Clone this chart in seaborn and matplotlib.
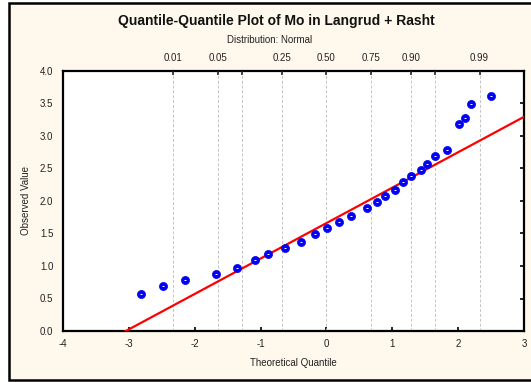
import numpy as np
import pandas as pd
import matplotlib
matplotlib.use("Agg")
import matplotlib.pyplot as plt
from matplotlib.patches import Rectangle
import seaborn as sns


# DATA

theoretical = [-2.81, -2.48, -2.14, -1.68, -1.36, -1.08, -0.88, -0.63, -0.38,
               -0.17, 0.01, 0.19, 0.37, 0.62, 0.77, 0.89, 1.04, 1.16, 1.29,
               1.43, 1.53, 1.65, 1.83, 2.01, 2.11, 2.19, 2.50]
observed = [0.57, 0.69, 0.78, 0.87, 0.97, 1.09, 1.18, 1.27, 1.37,
            1.49, 1.59, 1.68, 1.77, 1.89, 1.99, 2.08, 2.17, 2.29, 2.39,
            2.48, 2.57, 2.69, 2.79, 3.19, 3.28, 3.49, 3.62]

fit_intercept = 1.66
fit_slope = 0.545

prob_levels = [0.01, 0.05, 0.10, 0.25, 0.50, 0.75, 0.90, 0.95, 0.99]
prob_z = [-2.326, -1.645, -1.282, -0.674, 0.0, 0.674, 1.282, 1.645, 2.326]
prob_labels = ["0.01", "0.05", "", "0.25", "0.50", "0.75", "0.90", "", "0.99"]

x_ticks = [-4, -3, -2, -1, 0, 1, 2, 3]
y_ticks = [0.0, 0.5, 1.0, 1.5, 2.0, 2.5, 3.0, 3.5, 4.0]

df = pd.DataFrame({"q": theoretical, "v": observed})


# STYLE

sns.set_style("white")
plt.rcParams["font.family"] = ["Liberation Sans", "DejaVu Sans"]

CREAM = "#FEF9EC"

fig = plt.figure(figsize=(5.31, 3.82), dpi=100)
fig.patch.set_facecolor("white")

# cream panel with black frame (right side runs off the picture)
fig.patches.append(Rectangle((8.5 / 531, 2 / 382), 2.0, 377 / 382,
                             transform=fig.transFigure, facecolor=CREAM,
                             edgecolor="black", linewidth=1.8, zorder=-10))

ax = fig.add_axes([63 / 531, 51 / 382, 461 / 531, 260 / 382])
ax.set_facecolor("white")

xlim = (-4, 3)

# quantile grid lines
for z in prob_z:
    ax.axvline(z, color="#C4C4C4", linestyle=(0, (3, 2)), linewidth=0.7, zorder=1)

# fitted line
line_x = np.array(xlim)
line_y = fit_intercept + fit_slope * line_x
sns.lineplot(x=line_x, y=line_y, ax=ax, color="#FF0000", linewidth=1.6, zorder=3)

# points
sns.scatterplot(data=df, x="q", y="v", ax=ax, color="#0000FF", s=34,
                edgecolor="#0000DD", linewidth=0.5, zorder=4)
sns.scatterplot(data=df, x="q", y="v", ax=ax, color="white", marker="_", s=3,
                linewidth=0.7, zorder=5)

ax.set_xlim(*xlim)
ax.set_ylim(0, 4)
ax.set_xticks(x_ticks)
ax.set_xticklabels([str(t) for t in x_ticks])
ax.set_yticks(y_ticks)
ax.set_yticklabels([f"{t:.1f}" for t in y_ticks])
ax.tick_params(axis="both", direction="in", length=3, width=1.2, labelsize=7,
               colors="black", labelcolor="#222222", right=True)
ax.tick_params(axis="x", pad=6)
ax.tick_params(axis="y", pad=7)

for s in ax.spines.values():
    s.set_color("black")
    s.set_linewidth(1.6)

ax.set_xlabel("Theoretical Quantile", fontsize=7, color="#222222")
ax.set_ylabel("Observed Value", fontsize=7, color="#222222")
ax.xaxis.set_label_coords(0.5, -(358 - 331) / 260)
ax.yaxis.set_label_coords((31 - 63) / 461, 0.5)

# top probability axis
ax2 = ax.twiny()
ax2.set_xlim(*xlim)
ax2.set_xticks(prob_z)
ax2.set_xticklabels(prob_labels)
ax2.tick_params(axis="x", direction="in", length=3, width=1.2, labelsize=7,
                labelcolor="#222222", pad=6)
for s in ax2.spines.values():
    s.set_visible(False)

fig.text(276 / 531, 1 - 21 / 382, "Quantile-Quantile Plot of Mo in Langrud + Rasht",
         ha="center", va="center", fontsize=10, fontweight="bold", color="#111111")
fig.text(270 / 531, 1 - 40 / 382, "Distribution: Normal",
         ha="center", va="center", fontsize=7, color="#222222")

fig.savefig("out.png", dpi=100, facecolor=fig.get_facecolor())
